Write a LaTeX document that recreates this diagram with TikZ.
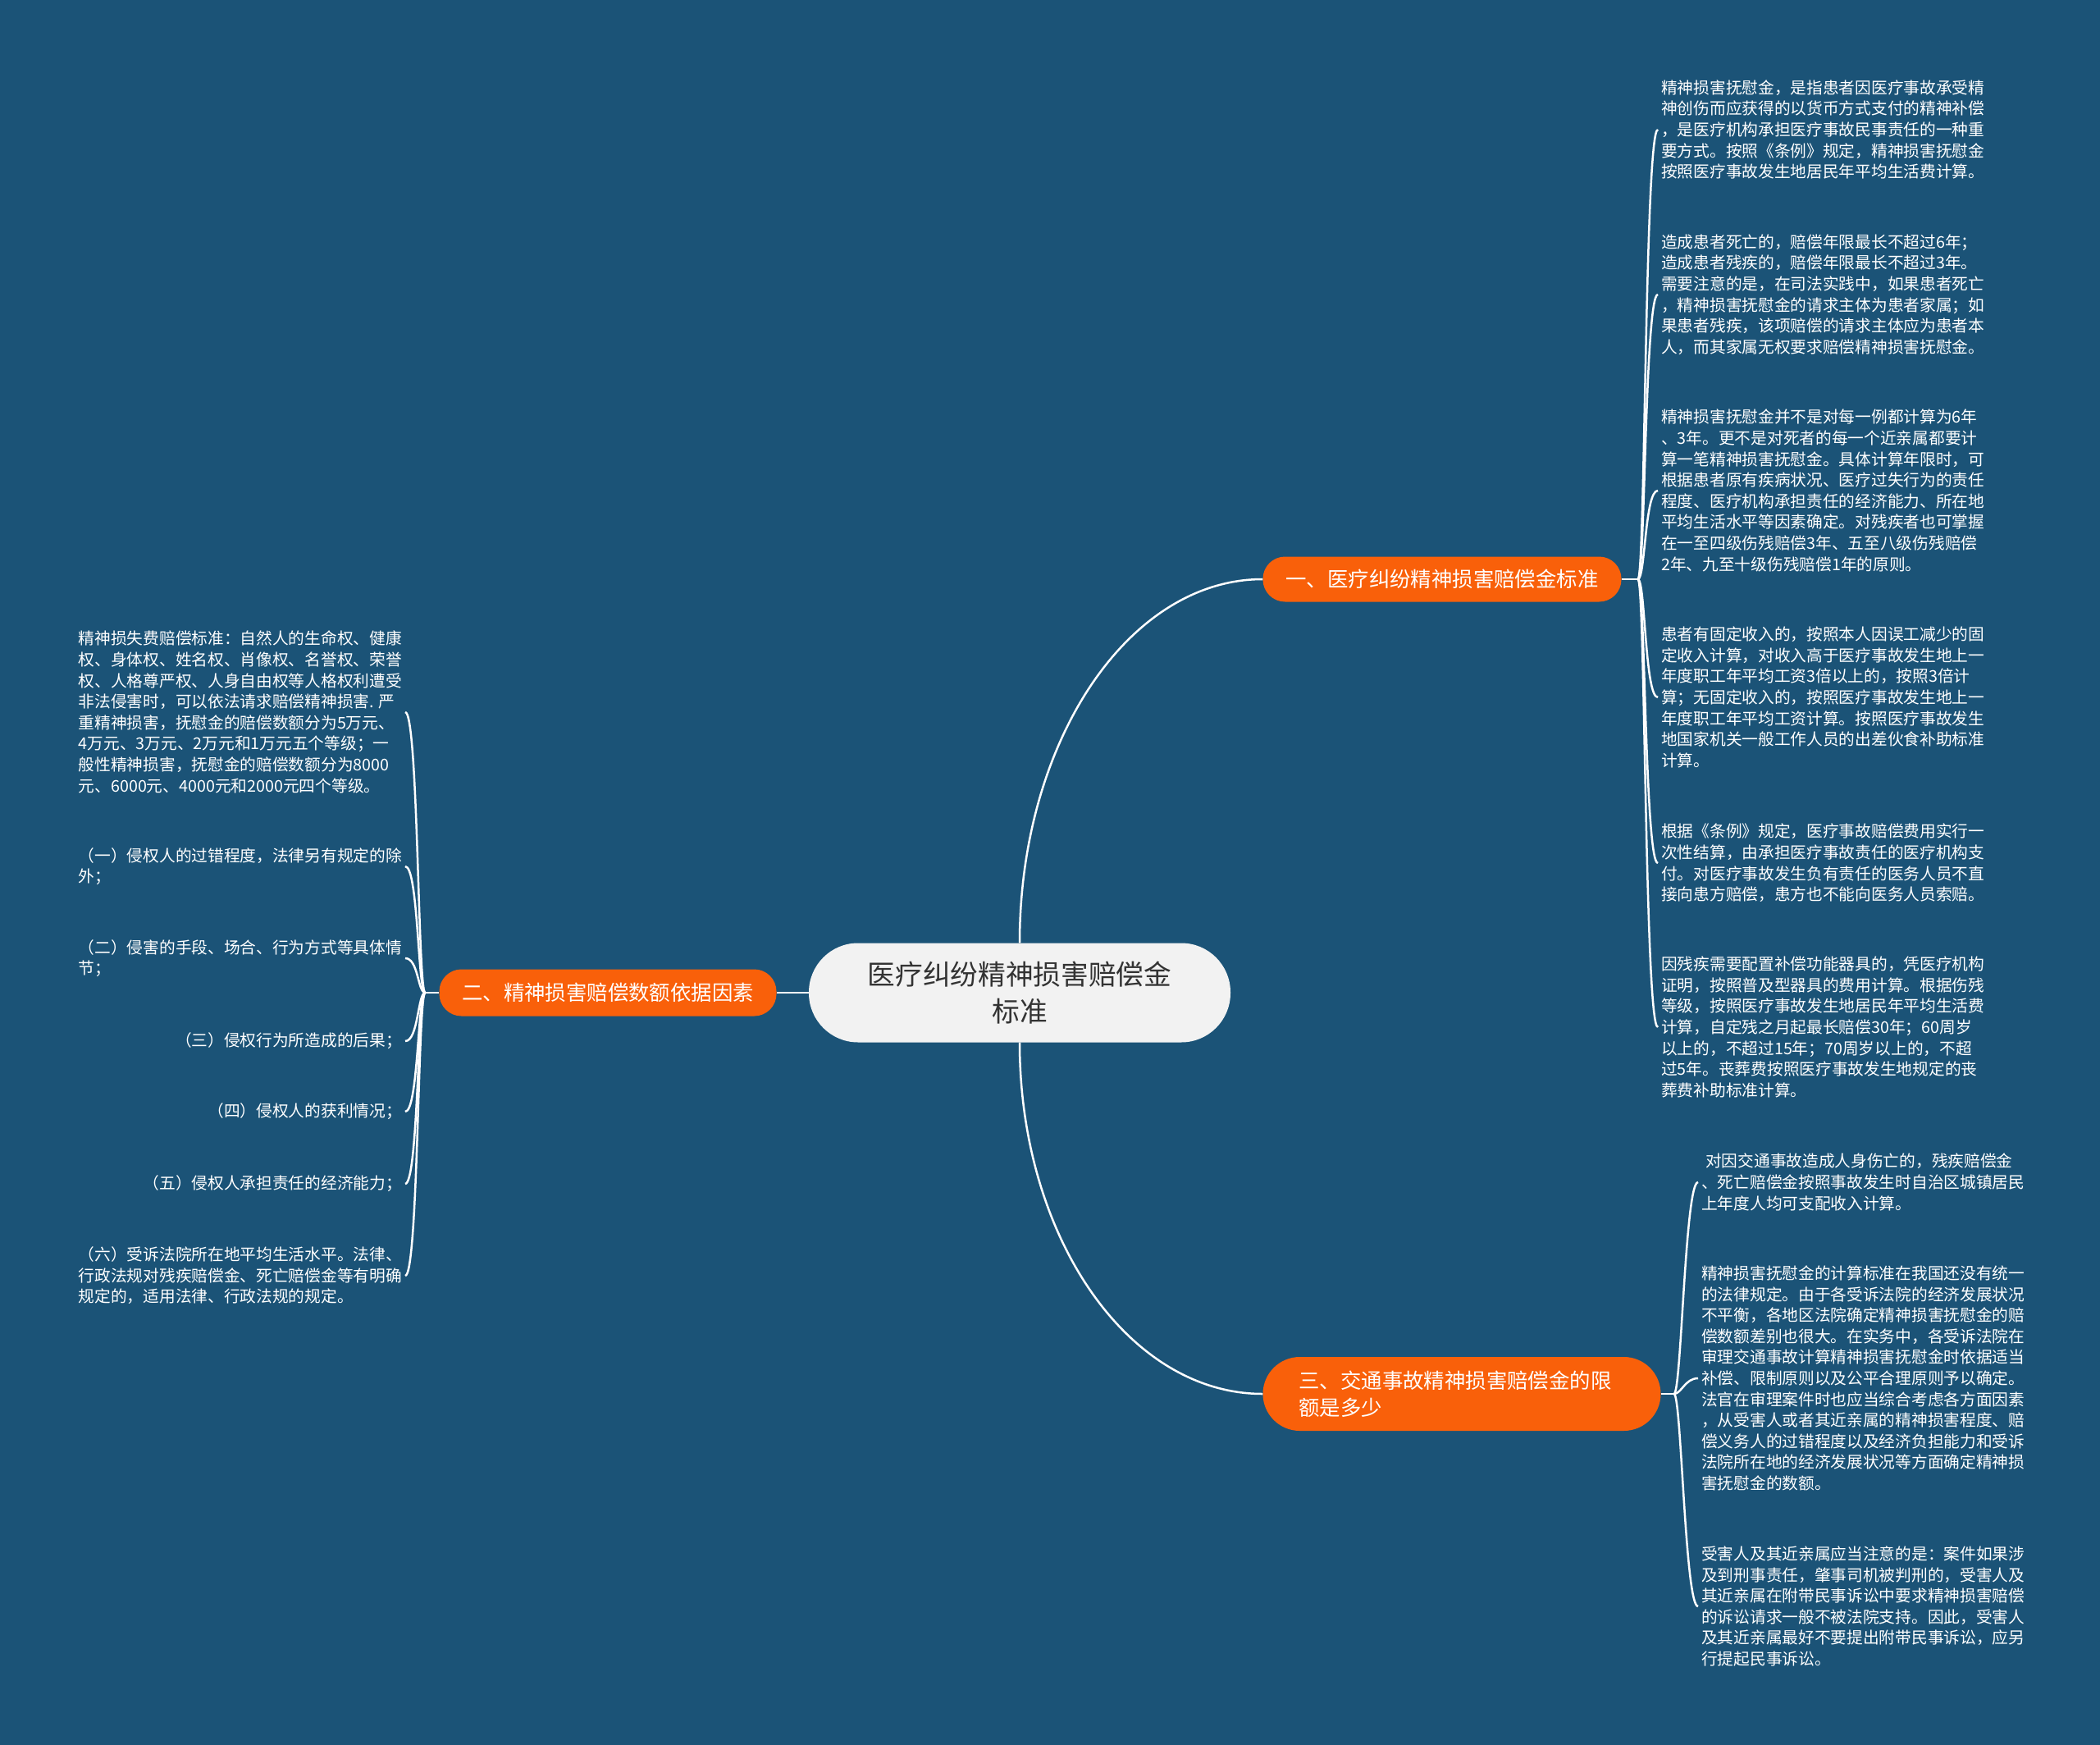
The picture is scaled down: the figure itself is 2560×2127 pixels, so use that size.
\documentclass[tikz,border=0pt]{standalone}
\usepackage{fontspec}
\newfontfamily\cjk{Noto Sans CJK SC}
\usepackage{tikz}
\usepackage{xcolor}
\definecolor{deepblue}{RGB}{27,83,119}
\definecolor{flame}{RGB}{249,96,10}
\definecolor{paper}{RGB}{242,242,242}
\definecolor{ink}{RGB}{51,51,51}

\begin{document}
\begin{tikzpicture}[x=1pt,y=-1pt,
  link/.style={white,line width=2.5pt},
  topic/.style={fill=flame,text=white,rounded corners=27pt,inner sep=0pt,minimum height=55pt,font=\cjk\fontsize{25.4}{32.7}\selectfont},
  leaf/.style={text=white,align=left,inner sep=4pt,font=\cjk\fontsize{19.7}{25.6}\selectfont}]
  \useasboundingbox (0,0) rectangle (2560,2127);
  \fill[deepblue] (0,0) rectangle (2560,2127);
  % centre and the three topics
  \node[fill=paper,text=ink,rounded corners=60pt,minimum width=514pt,minimum height=121pt,inner sep=0pt,align=center,font=\cjk\fontsize{33.7}{45.7}\selectfont] (root) at (1243,1210) {医疗纠纷精神损害赔偿金\\标准};
  \node[topic,minimum width=437pt] (b1) at (1758,706) {一、医疗纠纷精神损害赔偿金标准};
  \node[topic,minimum width=411pt,minimum height=57pt] (b2) at (741,1210) {二、精神损害赔偿数额依据因素};
  \node[topic,rounded corners=45pt,minimum height=90pt,text width=397pt,inner xsep=44pt,align=left] (b3) at (1782,1699) {三、交通事故精神损害赔偿金的限\\额是多少};
  \draw[link] (root.north) .. controls +(0,-245) and +(-164,0) .. (b1.west);
  \draw[link] (root.south) .. controls +(0,237) and +(-164,0) .. (b3.west);
  \draw[link] (root.west) -- (b2.east);
  \coordinate (h1) at ([xshift=20pt]b1.east);
  \coordinate (h2) at ([xshift=-17pt]b2.west);
  \coordinate (h3) at ([xshift=16pt]b3.east);
  \draw[link] (b1.east) -- (h1);
  \draw[link] (b2.west) -- (h2);
  \draw[link] (b3.east) -- (h3);
  % topic one (right, top)
  \foreach \n/\y/\txt in {
    1/158/{精神损害抚慰金，是指患者因医疗事故承受精\\神创伤而应获得的以货币方式支付的精神补偿\\，是医疗机构承担医疗事故民事责任的一种重\\要方式。按照《条例》规定，精神损害抚慰金\\按照医疗事故发生地居民年平均生活费计算。},
    2/359/{造成患者死亡的，赔偿年限最长不超过6年；\\造成患者残疾的，赔偿年限最长不超过3年。\\需要注意的是，在司法实践中，如果患者死亡\\，精神损害抚慰金的请求主体为患者家属；如\\果患者残疾，该项赔偿的请求主体应为患者本\\人，而其家属无权要求赔偿精神损害抚慰金。},
    3/598/{精神损害抚慰金并不是对每一例都计算为6年\\、3年。更不是对死者的每一个近亲属都要计\\算一笔精神损害抚慰金。具体计算年限时，可\\根据患者原有疾病状况、医疗过失行为的责任\\程度、医疗机构承担责任的经济能力、所在地\\平均生活水平等因素确定。对残疾者也可掌握\\在一至四级伤残赔偿3年、五至八级伤残赔偿\\2年、九至十级伤残赔偿1年的原则。},
    4/850/{患者有固定收入的，按照本人因误工减少的固\\定收入计算，对收入高于医疗事故发生地上一\\年度职工年平均工资3倍以上的，按照3倍计\\算；无固定收入的，按照医疗事故发生地上一\\年度职工年平均工资计算。按照医疗事故发生\\地国家机关一般工作人员的出差伙食补助标准\\计算。},
    5/1052/{根据《条例》规定，医疗事故赔偿费用实行一\\次性结算，由承担医疗事故责任的医疗机构支\\付。对医疗事故发生负有责任的医务人员不直\\接向患方赔偿，患方也不能向医务人员索赔。},
    6/1252/{因残疾需要配置补偿功能器具的，凭医疗机构\\证明，按照普及型器具的费用计算。根据伤残\\等级，按照医疗事故发生地居民年平均生活费\\计算，自定残之月起最长赔偿30年；60周岁\\以上的，不超过15年；70周岁以上的，不超\\过5年。丧葬费按照医疗事故发生地规定的丧\\葬费补助标准计算。}} {
    \node[leaf,anchor=west] (r\n) at (2021,\y) {\txt};
    \draw[link] (h1) .. controls +(9,0) and +(-16,0) .. (r\n.west);
  }
  % topic two (left)
  \foreach \n/\y/\txt in {
    1/868/{精神损失费赔偿标准：自然人的生命权、健康\\权、身体权、姓名权、肖像权、名誉权、荣誉\\权、人格尊严权、人身自由权等人格权利遭受\\非法侵害时，可以依法请求赔偿精神损害. 严\\重精神损害，抚慰金的赔偿数额分为5万元、\\4万元、3万元、2万元和1万元五个等级；一\\般性精神损害，抚慰金的赔偿数额分为8000\\元、6000元、4000元和2000元四个等级。},
    2/1056/{（一）侵权人的过错程度，法律另有规定的除\\外；},
    3/1168/{（二）侵害的手段、场合、行为方式等具体情\\节；},
    4/1269/{（三）侵权行为所造成的后果；},
    5/1355/{（四）侵权人的获利情况；},
    6/1443/{（五）侵权人承担责任的经济能力；},
    7/1555/{（六）受诉法院所在地平均生活水平。法律、\\行政法规对残疾赔偿金、死亡赔偿金等有明确\\规定的，适用法律、行政法规的规定。}} {
    \node[leaf,anchor=east] (l\n) at (494,\y) {\txt};
    \draw[link] (h2) .. controls +(-9,0) and +(16,0) .. (l\n.east);
  }
  % topic three (right, bottom)
  \foreach \n/\y/\txt in {
    1/1441/{\hspace{5pt}对因交通事故造成人身伤亡的，残疾赔偿金\\、死亡赔偿金按照事故发生时自治区城镇居民\\上年度人均可支配收入计算。},
    2/1680/{精神损害抚慰金的计算标准在我国还没有统一\\的法律规定。由于各受诉法院的经济发展状况\\不平衡，各地区法院确定精神损害抚慰金的赔\\偿数额差别也很大。在实务中，各受诉法院在\\审理交通事故计算精神损害抚慰金时依据适当\\补偿、限制原则以及公平合理原则予以确定。\\法官在审理案件时也应当综合考虑各方面因素\\，从受害人或者其近亲属的精神损害程度、赔\\偿义务人的过错程度以及经济负担能力和受诉\\法院所在地的经济发展状况等方面确定精神损\\害抚慰金的数额。},
    3/1958/{受害人及其近亲属应当注意的是：案件如果涉\\及到刑事责任，肇事司机被判刑的，受害人及\\其近亲属在附带民事诉讼中要求精神损害赔偿\\的诉讼请求一般不被法院支持。因此，受害人\\及其近亲属最好不要提出附带民事诉讼，应另\\行提起民事诉讼。}} {
    \node[leaf,anchor=west] (m\n) at (2070,\y) {\txt};
    \draw[link] (h3) .. controls +(9,0) and +(-16,0) .. (m\n.west);
  }
\end{tikzpicture}
\end{document}
